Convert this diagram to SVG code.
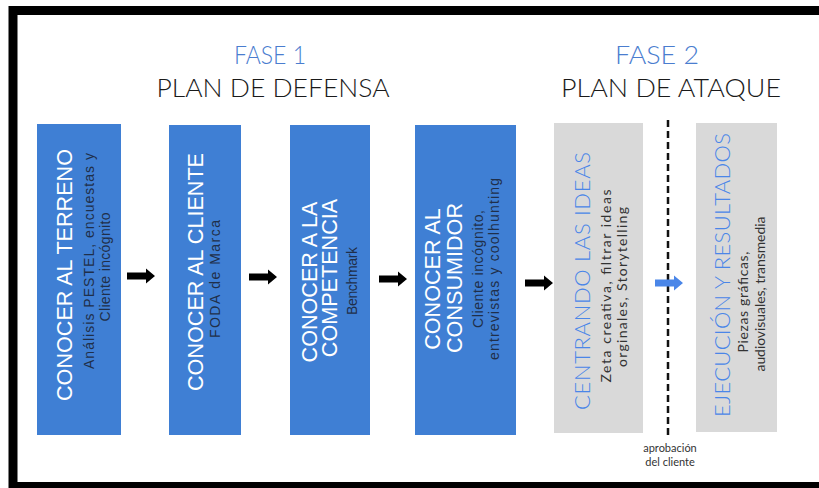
<svg xmlns="http://www.w3.org/2000/svg" width="819" height="488" viewBox="0 0 819 488">
  <style>
    .blue { fill: #3f7fd4; }
    .gray { fill: #d9d9d9; }
    .ttl { font-family: "Liberation Sans", Arial, sans-serif; font-size: 21.6px; fill: #ffffff; text-anchor: middle; }
    .sub { font-family: "Liberation Sans", Arial, sans-serif; font-size: 14px; fill: #1f2f4a; text-anchor: middle; }
    .gttl { font-family: Lato, "Liberation Sans", sans-serif; font-weight: 300; font-size: 22px; fill: #4a86e8; text-anchor: middle; }
    .gsub { font-family: Lato, "Liberation Sans", sans-serif; font-size: 14px; fill: #333333; text-anchor: middle; }
    .fase { font-family: Lato, "Liberation Sans", sans-serif; font-weight: 300; font-size: 26px; fill: #4a7dcf; text-anchor: middle; }
    .plan { font-family: Lato, "Liberation Sans", sans-serif; font-weight: 300; font-size: 26px; fill: #1a1a1a; text-anchor: middle; }
    .note { font-family: Lato, "Liberation Sans", sans-serif; font-size: 11px; fill: #333333; text-anchor: middle; }
    .arrow { fill: #000000; }
    .arrow-blue { fill: #4a86e8; }
  </style>
  <defs>
    <!-- block arrow, 28 wide, centred on y=0 -->
    <path id="blockArrow" d="M0,-3.5 H19 V-7.5 L28,0 L19,7.5 V3.5 H0 Z"/>
  </defs>

  <rect x="0" y="0" width="819" height="488" fill="#ffffff"/>
  <!-- outer frame -->
  <rect x="13" y="10.5" width="840" height="476" fill="none" stroke="#000000" stroke-width="9"/>

  <!-- headings -->
  <g id="fase1">
    <text class="fase" x="270" y="64" textLength="72" lengthAdjust="spacingAndGlyphs">FASE 1</text>
    <text class="plan" x="273" y="97" textLength="233" lengthAdjust="spacingAndGlyphs">PLAN DE DEFENSA</text>
  </g>
  <g id="fase2">
    <text class="fase" x="657" y="64" textLength="84" lengthAdjust="spacingAndGlyphs">FASE 2</text>
    <text class="plan" x="671" y="97" textLength="220" lengthAdjust="spacingAndGlyphs">PLAN DE ATAQUE</text>
  </g>

  <!-- phase 1 steps -->
  <g id="terreno">
    <rect class="blue" x="37" y="124" width="84" height="311"/>
    <text class="ttl" x="72" y="275" transform="rotate(-90 72 275)">CONOCER AL TERRENO</text>
    <text class="sub" x="94" y="261" transform="rotate(-90 94 261)" textLength="216">Análisis PESTEL, encuestas y</text>
    <text class="sub" x="110" y="267" transform="rotate(-90 110 267)" textLength="109">Cliente incógnito</text>
  </g>
  <g id="cliente">
    <rect class="blue" x="169" y="125" width="72" height="310"/>
    <text class="ttl" x="203" y="272" transform="rotate(-90 203 272)">CONOCER AL CLIENTE</text>
    <text class="sub" x="220" y="279" transform="rotate(-90 220 279)" textLength="118">FODA de Marca</text>
  </g>
  <g id="competencia">
    <rect class="blue" x="290" y="125" width="80" height="310"/>
    <text class="ttl" x="317" y="282" transform="rotate(-90 317 282)">CONOCER A LA</text>
    <text class="ttl" x="337" y="278" transform="rotate(-90 337 278)">COMPETENCIA</text>
    <text class="sub" x="357" y="281" transform="rotate(-90 357 281)" textLength="68">Benchmark</text>
  </g>
  <g id="consumidor">
    <rect class="blue" x="415" y="125" width="101" height="310"/>
    <text class="ttl" x="440" y="279" transform="rotate(-90 440 279)">CONOCER AL</text>
    <text class="ttl" x="462" y="278" transform="rotate(-90 462 278)">CONSUMIDOR</text>
    <text class="sub" x="483" y="269" transform="rotate(-90 483 269)" textLength="118">Cliente incógnito,</text>
    <text class="sub" x="499" y="269" transform="rotate(-90 499 269)" textLength="182">entrevistas y coolhunting</text>
  </g>

  <!-- phase 2 steps -->
  <g id="ideas">
    <rect class="gray" x="554" y="123" width="89" height="310"/>
    <text class="gttl" x="590" y="281" transform="rotate(-90 590 281)" textLength="258">CENTRANDO LAS IDEAS</text>
    <text class="gsub" x="611" y="286" transform="rotate(-90 611 286)" textLength="193">Zeta creativa,  filtrar ideas</text>
    <text class="gsub" x="627" y="287" transform="rotate(-90 627 287)" textLength="160">orginales, Storytelling</text>
  </g>
  <g id="ejecucion">
    <rect class="gray" x="696" y="123" width="81" height="309"/>
    <text class="gttl" x="730" y="275" transform="rotate(-90 730 275)" textLength="284">EJECUCIÓN Y RESULTADOS</text>
    <text class="gsub" x="748" y="302" transform="rotate(-90 748 302)" textLength="101">Piezas gráficas,</text>
    <text class="gsub" x="765" y="294" transform="rotate(-90 765 294)" textLength="155">audiovisuales, transmedia</text>
  </g>

  <g id="aprobacion">
    <text class="note" x="670" y="452">aprobación</text>
    <text class="note" x="670" y="466">del cliente</text>
  </g>

  <!-- connectors -->
  <g id="connectors">
    <line x1="668" y1="120" x2="668" y2="436" stroke="#111111" stroke-width="2.5" stroke-dasharray="7 4"/>
    <use href="#blockArrow" class="arrow" transform="translate(127 276)"/>
    <use href="#blockArrow" class="arrow" transform="translate(249 277)"/>
    <use href="#blockArrow" class="arrow" transform="translate(379 279)"/>
    <use href="#blockArrow" class="arrow" transform="translate(525 283)"/>
    <use href="#blockArrow" class="arrow-blue" transform="translate(655 283)"/>
  </g>
</svg>
